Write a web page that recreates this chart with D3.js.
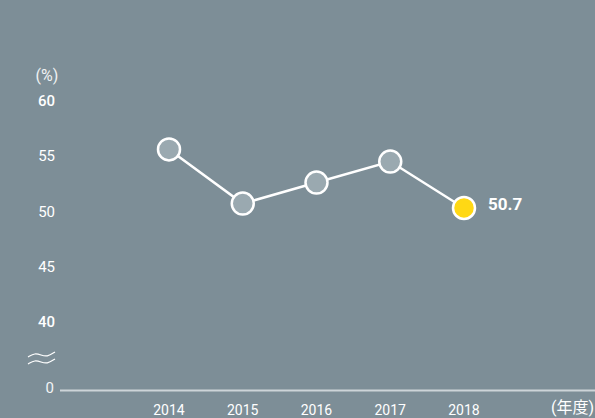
<!DOCTYPE html>
<html>
<head>
<meta charset="utf-8">
<script src="https://cdn.jsdelivr.net/npm/d3@7"></script>
<style>
  html, body { margin: 0; padding: 0; background: #7d8e97; }
  svg { display: block; }
  text { font-family: Roboto, "Noto Sans CJK JP", sans-serif; }
</style>
</head>
<body>
<svg width="595" height="418"></svg>
<script>
const years = ['2014', '2015', '2016', '2017', '2018']
const values = [56.0, 51.1, 53.0, 54.9, 50.7]
const yTicks = [40, 45, 50, 55, 60]
const highlightLabel = '50.7'

const svg = d3.select('svg');
const width = +svg.attr('width');
const height = +svg.attr('height');

svg.append('rect')
    .attr('width', width)
    .attr('height', height)
    .attr('fill', '#7d8e97');

const x = d3.scalePoint()
    .domain(years)
    .range([169, 464]);

const y = d3.scaleLinear()
    .domain([40, 60])
    .range([326.2, 105.2]);

// y tick labels (the scale is broken between 0 and 40)
svg.append('g').selectAll('text')
    .data(yTicks)
    .join('text')
    .attr('x', 55)
    .attr('y', d => y(d) + 1)
    .attr('text-anchor', 'end')
    .attr('font-size', 15)
    .attr('font-weight', d => (d === 60 || d === 40) ? 500 : 400)
    .attr('fill', '#ffffff')
    .text(d => d);

svg.append('text')
    .attr('x', 54)
    .attr('y', 393)
    .attr('text-anchor', 'end')
    .attr('font-size', 15)
    .attr('fill', '#f2f4f5')
    .text('0');

svg.append('text')
    .attr('x', 47)
    .attr('y', 81)
    .attr('text-anchor', 'middle')
    .attr('font-size', 16)
    .attr('fill', '#f0f2f3')
    .text('(%)');

// break mark
const wave = d3.line().curve(d3.curveBasis);
[0, 7].forEach(off => {
    svg.append('path')
        .attr('d', wave([[28, 357 + off], [35, 353 + off], [41, 355 + off], [47, 357 + off], [55, 352 + off]]))
        .attr('fill', 'none')
        .attr('stroke', '#ffffff')
        .attr('stroke-width', 1.2);
});

// baseline
svg.append('line')
    .attr('x1', 60)
    .attr('x2', width)
    .attr('y1', 390.5)
    .attr('y2', 390.5)
    .attr('stroke', '#cdd4d8')
    .attr('stroke-width', 2);

// x labels
svg.append('g').selectAll('text')
    .data(years)
    .join('text')
    .attr('x', d => x(d))
    .attr('y', 415)
    .attr('text-anchor', 'middle')
    .attr('font-size', 14)
    .attr('fill', '#ffffff')
    .text(d => d);

svg.append('text')
    .attr('x', 594)
    .attr('y', 413)
    .attr('text-anchor', 'end')
    .attr('font-size', 16)
    .attr('fill', '#ffffff')
    .text('(年度)');

const data = years.map((yr, i) => ({ year: yr, value: values[i] }));

svg.append('path')
    .datum(data)
    .attr('d', d3.line().x(d => x(d.year)).y(d => y(d.value)))
    .attr('fill', 'none')
    .attr('stroke', '#ffffff')
    .attr('stroke-width', 2.5);

svg.append('g').selectAll('circle')
    .data(data)
    .join('circle')
    .attr('cx', d => x(d.year))
    .attr('cy', d => y(d.value))
    .attr('r', 11)
    .attr('fill', (d, i) => i === data.length - 1 ? '#ffd814' : '#9aa9b0')
    .attr('stroke', '#ffffff')
    .attr('stroke-width', 2.5);

const last = data[data.length - 1];
svg.append('text')
    .attr('x', x(last.year) + 24)
    .attr('y', y(last.value) + 2)
    .attr('font-size', 17)
    .attr('font-weight', 700)
    .attr('fill', '#ffffff')
    .text(highlightLabel);
</script>
</body>
</html>
